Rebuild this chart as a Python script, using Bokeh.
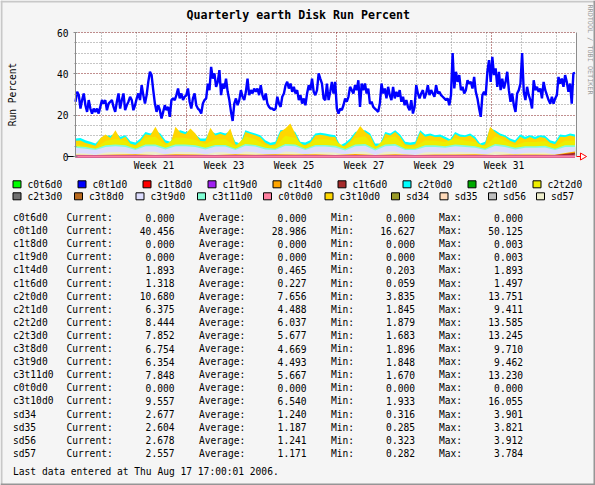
import math
from datetime import datetime, date, timedelta
import numpy as np
from bokeh.plotting import figure
from bokeh.models import Range1d, FixedTicker, Grid, BoxAnnotation
from bokeh.embed import file_html
from bokeh.resources import INLINE
from bokeh.core.properties import value

# ---------------- data ----------------
c0t1d0 = [
    26.5, 31.3, 29.7, 23.2, 27.3, 30.5, 24.8, 21.6, 27.3, 23.2,
    20.8, 23.2, 21.6, 23.2, 20.8, 24.0, 27.3, 25.6, 27.3, 22.4,
    25.6, 26.5, 27.3, 24.0, 21.6, 26.5, 30.5, 23.2, 27.3, 30.5,
    22.4, 24.8, 26.5, 28.9, 27.3, 22.4, 24.8, 28.1, 30.5, 27.3,
    34.5, 29.7, 25.6, 29.7, 36.1, 41.0, 39.4, 32.1, 25.6, 21.6,
    24.8, 22.4, 18.4, 21.6, 24.8, 22.4, 24.0, 19.2, 27.3, 28.1,
    27.3, 29.7, 32.9, 28.1, 30.5, 27.3, 28.9, 29.7, 32.9, 26.5,
    23.2, 28.1, 30.5, 24.8, 23.2,
    22.4, 20.8, 25.6, 27.3, 28.1, 35.3, 32.1, 43.4, 37.7, 40.2,
    33.7, 36.1, 41.8, 29.7, 35.3, 32.9, 37.7, 31.3, 27.3, 21.6,
    17.2, 25.6, 28.1, 24.8, 27.3, 32.1, 28.9, 27.3, 31.3, 37.7,
    29.7, 32.1, 30.5, 32.9, 31.3, 32.9, 29.7, 34.5, 29.7, 27.3,
    30.5, 25.6, 24.0, 23.2, 23.2, 22.4, 23.2, 28.9, 25.6, 24.0,
    28.9, 30.5, 34.5, 36.1, 32.9, 35.3, 31.3, 33.7, 30.5, 32.1,
    27.3, 29.7, 25.6, 28.1, 24.8, 30.5, 34.5, 32.1, 37.7, 31.3,
    29.7, 32.1, 40.2, 37.7, 35.3, 28.1,
    27.3, 35.3, 27.3, 31.3, 36.1, 30.5, 36.1, 23.2, 20.8, 23.2,
    22.4, 24.8, 28.1, 26.5, 28.9, 33.7, 32.1, 30.5, 34.5, 32.1,
    36.9, 24.0, 35.3, 32.1, 35.3, 30.5, 32.9, 25.6, 26.5, 24.0,
    23.2, 22.4, 21.6, 25.6, 35.3, 30.5, 32.9, 28.1, 33.7, 29.7,
    27.3, 33.7, 28.1, 31.3, 28.9, 32.1, 26.5, 28.9, 24.8, 27.3,
    24.0, 22.4, 27.3, 20.8, 24.0, 34.5, 30.5, 28.1, 30.5, 32.1,
    28.1, 30.5, 34.5, 29.7, 32.1, 30.5, 28.9, 34.5, 30.5, 31.3,
    29.7, 28.9, 28.1, 27.3, 28.1, 24.8,
    29.7, 50.1, 32.9, 41.0, 36.1, 39.4, 32.1, 33.7, 30.5, 32.1,
    36.9, 35.3, 36.1, 32.9, 38.5, 31.3, 28.1, 23.2, 19.2, 29.7,
    31.3, 29.7, 41.0, 46.6, 36.1, 48.2, 39.4, 42.6, 33.7, 41.0,
    32.1, 37.7, 32.9, 36.1, 41.0, 32.1, 26.5, 30.5, 24.8, 21.6,
    30.5, 32.1, 35.3, 50.1, 31.3, 27.3, 33.7, 29.7, 27.3, 23.2,
    36.9, 32.1, 33.7, 31.3, 32.9, 28.1, 36.1, 32.1, 29.7, 27.3,
    25.6, 28.9, 25.6, 28.1, 29.7, 38.5, 35.3, 37.7, 33.7, 39.4,
    36.1, 31.3, 35.3, 25.6, 40.2, 40.5,
]
c2t0d0 = [
    8.7, 9.0, 7.9, 7.1, 6.3, 8.7, 10.2, 10.0, 11.2, 9.5,
    10.3, 7.4, 6.8, 8.7, 11.9, 11.1, 12.4, 11.1, 7.9, 7.1,
    12.0, 12.7, 11.9, 12.3, 10.6, 8.7, 8.7, 12.5, 11.1, 11.9,
    11.1, 12.2, 7.1, 6.3, 12.7, 11.9, 11.1, 10.3, 7.9, 6.6,
    7.1, 12.7, 13.0, 13.2, 11.9, 7.1, 6.8, 7.9, 11.1, 11.5,
    11.1, 10.6, 10.3, 5.5, 6.6, 8.7, 11.9, 12.6, 12.7, 11.1,
    6.3, 6.3, 11.9, 11.1, 12.7, 10.6, 7.1, 6.8, 7.1, 12.7,
    10.6, 11.1, 10.3, 10.6, 9.5, 8.3, 11.9, 10.6, 10.3, 11.1,
    9.5, 6.3, 7.1, 13.7, 12.7, 11.1, 10.3, 8.7, 7.9, 10.6,
    9.5, 10.3, 9.5, 10.3, 10.0, 7.9, 7.1, 10.6, 10.3, 11.1, 10.6,
]
c3t10d0 = [
    7.6, 7.8, 6.5, 5.9, 5.2, 8.9, 10.6, 9.0, 12.7, 8.4,
    9.6, 6.2, 5.6, 7.6, 10.8, 10.3, 14.4, 10.0, 6.7, 5.9,
    14.4, 11.6, 10.8, 13.5, 11.1, 7.5, 7.4, 13.9, 10.2, 11.0,
    10.2, 13.5, 5.9, 5.1, 11.8, 11.0, 10.3, 9.3, 6.7, 5.4,
    5.9, 11.8, 13.5, 16.0, 11.0, 5.9, 5.6, 6.8, 10.2, 10.5,
    10.2, 9.6, 9.4, 4.4, 5.4, 7.6, 11.0, 14.8, 11.8, 10.2,
    5.1, 5.1, 11.0, 10.2, 11.8, 9.6, 5.9, 5.6, 5.9, 11.8,
    9.6, 10.2, 9.4, 9.6, 8.4, 7.2, 10.9, 9.6, 9.4, 10.2,
    8.4, 5.1, 5.9, 14.4, 11.8, 10.2, 9.4, 7.6, 6.7, 9.6,
    8.4, 9.4, 8.4, 9.4, 9.0, 6.7, 5.9, 9.6, 9.4, 10.2, 9.6,
]
c2t2d0 = [
    5.8, 5.2, 4.0, 7.5, 8.6, 7.6, 4.6, 9.2, 9.6, 5.4,
    9.2, 9.0, 8.0, 6.0, 8.4, 8.4, 4.8, 9.8, 8.4, 5.4,
    4.8, 10.0, 9.0, 4.6, 8.4, 8.4, 7.6, 4.4, 9.0, 9.8,
    4.2, 9.0, 9.8, 4.8, 4.8, 7.8, 7.6, 7.0, 9.0, 7.6,
    7.0, 4.8, 9.8, 7.6, 5.4, 7.0, 7.0, 7.4, 4.8, 7.6, 7.8,
]
c3t11d0 = [
    5.0, 4.6, 3.8, 5.4, 5.8, 5.4, 3.8, 5.8, 5.8, 4.2,
    5.8, 5.8, 5.4, 4.2, 5.6, 5.6, 3.8, 6.0, 5.6, 4.2,
    3.8, 6.0, 5.8, 3.8, 5.6, 5.6, 5.2, 3.6, 5.8, 6.0,
    3.6, 5.8, 6.0, 3.8, 3.8, 5.4, 5.4, 5.0, 5.8, 5.4,
    5.0, 3.8, 6.0, 5.4, 4.2, 5.0, 5.0, 5.2, 3.8, 5.4, 5.4,
]
c3t9d0 = [
    4.2, 3.8, 3.1, 4.6, 5.0, 4.6, 3.1, 5.0, 5.0, 3.4,
    5.0, 5.0, 4.6, 3.4, 4.8, 4.8, 3.1, 5.2, 4.8, 3.4,
    3.1, 5.2, 5.0, 3.1, 4.8, 4.8, 4.4, 2.9, 5.0, 5.2,
    2.9, 5.0, 5.2, 3.1, 3.1, 4.6, 4.6, 4.2, 5.0, 4.6,
    4.2, 3.1, 5.2, 4.6, 3.4, 4.2, 4.2, 4.4, 3.1, 4.6, 4.6,
]
sd57 = [
    1.6, 1.4, 0.9, 1.9, 2.2, 1.9, 0.9, 2.3, 2.3, 1.0,
    2.3, 2.2, 2.0, 1.0, 2.1, 2.1, 0.8, 2.4, 2.1, 1.0,
    0.9, 2.4, 2.2, 0.8, 2.1, 2.1, 1.9, 0.8, 2.3, 2.4,
    0.7, 2.3, 2.4, 0.9, 0.9, 2.0, 2.0, 1.8, 2.3, 2.0,
    1.8, 0.9, 2.4, 2.0, 1.1, 1.8, 1.8, 1.9, 0.9, 2.0, 2.1,
]
c2t3d0 = [4.5, 4.0, 5.0, 5.0, 3.5, 5.0, 4.5, 3.5, 5.0, 4.5, 5.0, 4.5, 5.0,
          3.5, 5.0, 3.0, 5.0, 4.0, 4.5, 4.5, 5.0, 3.5, 4.5, 4.5, 4.0, 5.0]
c3t8d0 = [3.8, 3.5, 4.2, 4.5, 3.0, 4.5, 4.0, 3.0, 4.5, 4.0, 4.5, 4.0, 4.5,
          3.0, 4.5, 2.8, 4.5, 3.5, 4.0, 4.0, 4.5, 3.0, 4.0, 4.0, 3.5, 4.5]
c2t1d0 = [3.6, 3.2, 4.0, 4.4, 2.8, 4.2, 3.8, 2.8, 4.2, 3.8, 4.2, 3.8, 4.2,
          2.8, 4.2, 2.6, 4.4, 3.2, 3.8, 3.8, 4.2, 2.8, 3.8, 3.8, 3.2, 4.2]
sd34 = [0.7, 0.6, 0.8, 0.9, 0.5, 0.9, 0.8, 0.5, 0.9, 0.7, 0.9, 0.8, 0.9,
        0.5, 0.9, 0.5, 0.9, 0.6, 0.8, 0.8, 0.9, 0.5, 0.8, 0.8, 0.7, 0.9]
sd35 = [0.8, 0.6, 0.9, 1.0, 0.5, 1.0, 0.9, 0.6, 1.0, 0.8, 1.0, 0.9, 1.0,
        0.6, 1.0, 0.5, 1.0, 0.7, 0.9, 0.9, 1.0, 0.6, 0.9, 0.9, 0.8, 1.0]
sd56 = [0.8, 0.7, 0.9, 1.0, 0.6, 1.0, 0.9, 0.6, 1.0, 0.8, 1.0, 0.9, 1.0,
        0.6, 1.0, 0.6, 1.0, 0.7, 0.9, 0.9, 1.0, 0.6, 0.9, 0.9, 0.8, 1.0]
c1t4d0 = [0.4, 0.3, 0.5, 0.6, 0.2, 0.6, 0.5, 0.2, 0.6, 0.4, 0.6, 0.5, 0.6,
          0.3, 0.7, 0.2, 0.6, 0.3, 0.5, 0.5, 0.6, 0.3, 0.5, 0.5, 0.4, 1.9]
c1t6d0 = [0.2, 0.1, 0.3, 0.3, 0.1, 0.3, 0.2, 0.1, 0.3, 0.2, 0.3, 0.2, 0.3,
          0.1, 0.3, 0.1, 0.3, 0.1, 0.2, 0.2, 0.3, 0.1, 0.2, 0.2, 0.2, 1.3]
c0t6d0 = [0.0, 0.0, 0.0, 0.0, 0.0, 0.0, 0.0, 0.0, 0.0, 0.0, 0.0]
c1t8d0 = [0.0, 0.0, 0.0, 0.0, 0.0, 0.0, 0.0, 0.0, 0.0, 0.0, 0.0]
c1t9d0 = [0.0, 0.0, 0.0, 0.0, 0.0, 0.0, 0.0, 0.0, 0.0, 0.0, 0.0]
c0t0d0 = [0.0, 0.0, 0.0, 0.0, 0.0, 0.0, 0.0, 0.0, 0.0, 0.0, 0.0]

names = ["c0t6d0", "c0t1d0", "c1t8d0", "c1t9d0", "c1t4d0", "c1t6d0", "c2t0d0",
         "c2t1d0", "c2t2d0", "c2t3d0", "c3t8d0", "c3t9d0", "c3t11d0", "c0t0d0",
         "c3t10d0", "sd34", "sd35", "sd56", "sd57"]
colors = ["#00FF00", "#0000FF", "#FF0000", "#A020F0", "#FFA500", "#A52A2A", "#00FFFF",
          "#00AA00", "#EEEE00", "#707070", "#B8691E", "#DDDDFF", "#7FFFD4", "#FF80A0",
          "#FFD700", "#999A28", "#FFDAB9", "#BEBEBE", "#EEEECC"]
cur = ["0.000", "40.456", "0.000", "0.000", "1.893", "1.318", "10.680", "6.375", "8.444",
       "7.852", "6.754", "6.354", "7.848", "0.000", "9.557", "2.677", "2.604", "2.678", "2.557"]
avg = ["0.000", "28.986", "0.000", "0.000", "0.465", "0.227", "7.656", "4.488", "6.037",
       "5.677", "4.669", "4.493", "5.667", "0.000", "6.540", "1.240", "1.187", "1.241", "1.171"]
mins = ["0.000", "16.627", "0.000", "0.000", "0.203", "0.059", "3.835", "1.845", "1.879",
        "1.683", "1.896", "1.848", "1.670", "0.000", "1.933", "0.316", "0.285", "0.323", "0.282"]
maxs = ["0.000", "50.125", "0.003", "0.003", "1.893", "1.497", "13.751", "9.411", "13.585",
        "13.245", "9.710", "9.462", "13.230", "0.000", "16.055", "3.901", "3.821", "3.912", "3.784"]

title = "Quarterly earth Disk Run Percent"
ylabel = "Run Percent"
footer = "Last data entered at Thu Aug 17 17:00:01 2006."
credit = "RRDTOOL / TOBI OETIKER"
weeks = [21, 23, 25, 27, 29, 31]
y_major = [20, 40, 60]

# ---------------- time axis (days since 2006-06-01) ----------------
REF = datetime(2006, 6, 1)
def days(dt):
    return (dt - REF).total_seconds() / 86400.0

LAST = datetime(2006, 8, 17, 17, 0, 1)
X1 = 78.0
X0 = X1 - 100.2
T_END = days(LAST)
Y0, Y1 = 0.0, 60.0

mondays = []
d = datetime(2006, 5, 15)
while days(d) < X1:
    mondays.append(days(d))
    d += timedelta(days=7)
months = [days(datetime(2006, m, 1)) for m in (6, 7, 8)]
week_pos = [days(datetime.combine(date.fromisocalendar(2006, w, 1), datetime.min.time())) + 3.5
            for w in weeks]
week_txt = ["Week %d" % w for w in weeks]

BACK, CANVAS, SHADEA, SHADEB = "#F5F5F5", "#FFFFFF", "#C8C8C8", "#969696"
GRID, MGRID = "#8C8C8C", "#821E1E"
MONO = "DejaVu Sans Mono"
FS = "9.6px"

series = dict(zip(names, [c0t6d0, c0t1d0, c1t8d0, c1t9d0, c1t4d0, c1t6d0, c2t0d0, c2t1d0,
                          c2t2d0, c2t3d0, c3t8d0, c3t9d0, c3t11d0, c0t0d0, c3t10d0,
                          sd34, sd35, sd56, sd57]))
col = dict(zip(names, colors))

def xs(vals):
    return np.linspace(X0, T_END, len(vals))

# ---------------- page geometry ----------------
W, H = 595, 485
PL, PR, PT, PB = 75, 576, 32, 156          # plot area on the page
px_day = (X1 - X0) / (PR - PL)
px_val = (Y1 - Y0) / (PB - PT)

p = figure(width=W, height=H,
           x_range=Range1d(X0 - PL * px_day, X1 + (W - PR) * px_day),
           y_range=Range1d(Y0 - (H - PB) * px_val, Y1 + PT * px_val),
           output_backend="svg", toolbar_location=None,
           min_border=0, min_border_left=0, min_border_right=0,
           min_border_top=0, min_border_bottom=0,
           background_fill_color=BACK, border_fill_color=BACK, outline_line_color=None)
p.extra_x_ranges = {"px": Range1d(0, W)}
p.extra_y_ranges = {"py": Range1d(H, 0)}
p.xgrid.visible = False
p.ygrid.visible = False

# white canvas of the plot area
p.add_layout(BoxAnnotation(left=X0, right=X1, bottom=Y0, top=Y1, fill_color=CANVAS,
                           fill_alpha=1, line_color=None, level="underlay"))

# axes pinned to the plot area
xa = p.xaxis[0]
xa.fixed_location = 0
xa.visible = False

ya = p.yaxis[0]
ya.fixed_location = X0
ya.bounds = (Y0, Y1)
ya.ticker = FixedTicker(ticks=[0] + y_major, minor_ticks=list(range(0, 61, 5)))
ya.axis_line_color = GRID
ya.major_tick_line_color = GRID
ya.minor_tick_line_color = GRID
ya.major_tick_in = 2
ya.major_tick_out = 2
ya.minor_tick_in = 1
ya.minor_tick_out = 1
ya.major_label_text_font = MONO
ya.major_label_text_font_size = FS
ya.major_label_text_color = "#000000"
ya.major_label_standoff = 5

# grid
minor_y = [v for v in range(5, 60, 5) if v not in y_major]
grid_specs = [(0, mondays, GRID), (0, months, MGRID), (1, minor_y, GRID), (1, y_major, MGRID)]
if "cross_bounds" in Grid.properties():
    for dim, ticks, c in grid_specs:
        cb = (Y0, Y1) if dim == 0 else (X0, X1)
        p.add_layout(Grid(dimension=dim, ticker=FixedTicker(ticks=ticks), cross_bounds=cb,
                          grid_line_color=c, grid_line_dash="1 2"))
else:
    for dim, ticks, c in grid_specs:
        if dim == 0:
            p.segment(x0=ticks, y0=[Y0] * len(ticks), x1=ticks, y1=[Y1] * len(ticks),
                      line_color=c, line_dash="1 2", level="underlay")
        else:
            p.segment(x0=[X0] * len(ticks), y0=ticks, x1=[X1] * len(ticks), y1=ticks,
                      line_color=c, line_dash="1 2", level="underlay")
# right frame edge
p.segment(x0=[X1], y0=[Y0], x1=[X1], y1=[Y1], line_color=GRID, line_width=1)

# data
area_order = ["c2t3d0", "c3t8d0", "c2t1d0", "c2t0d0", "c3t10d0", "c2t2d0", "c3t11d0",
              "c3t9d0", "sd34", "sd35", "sd56", "sd57"]
for n in area_order:
    v = series[n]
    p.varea(x=xs(v), y1=0, y2=v, fill_color=col[n])
for n in ["c1t4d0", "c1t6d0", "c0t6d0", "c1t8d0", "c1t9d0", "c0t0d0"]:
    v = series[n]
    p.line(x=xs(v), y=v, line_color=col[n], line_width=2)
p.line(x=xs(c0t1d0), y=c0t1d0, line_color=col["c0t1d0"], line_width=2.4)

# week labels: x from the time scale, y on the page
p.text(x=week_pos, y=[165] * len(week_pos), text=week_txt, y_range_name="py",
       text_font=value(MONO), text_font_size=FS, text_baseline="middle",
       text_align="center", text_color="#000000")

# ---------------- page decorations (pixel coordinates) ----------------
PX = dict(x_range_name="px", y_range_name="py")

p.segment(x0=[PL - 8], y0=[PB], x1=[PL], y1=[PB], line_color="#000000", line_width=1, **PX)
p.segment(x0=[PR], y0=[PB], x1=[PR + 4], y1=[PB], line_color="#FF0000", line_width=1, **PX)
p.scatter(x=[PR + 6], y=[PB], marker="triangle", angle=-math.pi / 2, size=7,
          fill_color="#FFFFFF", line_color="#FF0000", line_width=1, **PX)

p.text(x=[186], y=[14.5], text=[title], text_font=value(MONO), text_font_style="bold",
       text_font_size="11.6px", text_baseline="middle", text_align="left",
       text_color="#000000", **PX)
p.text(x=[12], y=[94], text=[ylabel], angle=math.pi / 2, text_font=value(MONO),
       text_font_size=FS, text_baseline="middle", text_align="center",
       text_color="#000000", **PX)
p.text(x=[589], y=[4], text=[credit], angle=-math.pi / 2, text_font=value(MONO),
       text_font_size="6.8px", text_baseline="middle", text_align="left",
       text_color="#999999", **PX)

row1_x = [12 + 65 * k for k in range(9)]
row2_x = [12, 73.5, 135, 196.5, 262.5, 324, 390.5, 439, 487.5, 535.5]
leg_x = row1_x + row2_x
leg_y = [183.8] * 9 + [195.8] * 10
p.rect(x=[lx + 4.5 for lx in leg_x], y=leg_y, width=8, height=7, fill_color=colors,
       line_color="#000000", line_width=1, **PX)
p.text(x=[lx + 15 for lx in leg_x], y=leg_y, text=names, text_font=value(MONO),
       text_font_size=FS, text_baseline="middle", text_align="left", text_color="#000000",
       **PX)

row_y = [217 + 13.1 * k for k in range(len(names))]
def tcol(xpos, texts, align):
    p.text(x=[xpos] * len(texts), y=row_y, text=texts, text_font=value(MONO),
           text_font_size=FS, text_baseline="middle", text_align=align, text_color="#000000",
           **PX)
tcol(12.5, names, "left")
tcol(66, ["Current:"] * len(names), "left")
tcol(174, cur, "right")
tcol(198.5, ["Average:"] * len(names), "left")
tcol(306, avg, "right")
tcol(330.5, ["Min:"] * len(names), "left")
tcol(414.5, mins, "right")
tcol(438.5, ["Max:"] * len(names), "left")
tcol(522.5, maxs, "right")
p.text(x=[12.5], y=[470.5], text=[footer], text_font=value(MONO), text_font_size=FS,
       text_baseline="middle", text_align="left", text_color="#000000", **PX)

# 3-D shading of the image border
p.quad(left=[0, 0, W - 2, 0], right=[W, 2, W, W], top=[0, 0, 0, H - 2], bottom=[2, H, H, H],
       fill_color=[SHADEA, SHADEA, SHADEB, SHADEB], line_color=None, **PX)

open("out.html", "w").write(file_html(p, INLINE))
